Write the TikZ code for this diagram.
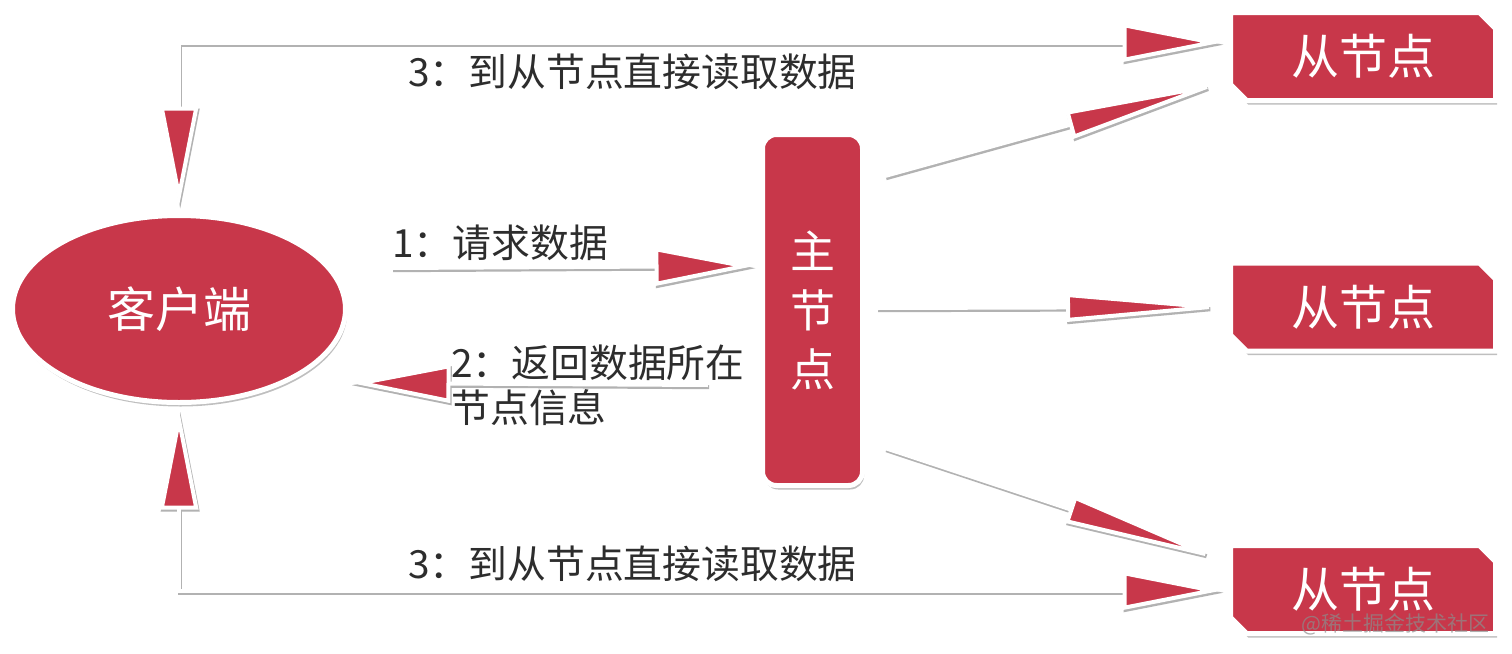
\documentclass[tikz,border=0pt]{standalone}
\usepackage{fontspec}
\setmainfont{Noto Sans CJK SC}
\usetikzlibrary{arrows.meta,shapes.misc,shapes.geometric,shadows,calc}
\definecolor{cred}{RGB}{200,55,74}
\definecolor{ctext}{RGB}{45,45,45}
\pgfdeclarelayer{bglayer}
\pgfdeclarelayer{shadowlayer}
\pgfdeclarelayer{linelayer}
\pgfsetlayers{bglayer,shadowlayer,linelayer,main}
\tikzset{
  sT/.tip={Triangle[length=50pt,width=19pt,line width=2pt,fill=cred]},
  sTs/.tip={Triangle[length=50pt,width=19pt,line width=2pt,fill=black!30]},
  lT/.tip={Triangle[length=83.5pt,width=14pt,line width=2pt,fill=cred]},
  lTs/.tip={Triangle[length=83.5pt,width=14pt,line width=2pt,fill=black!30]},
  shadowline/.style={draw=black!30,line width=2pt,transform canvas={shift={(0.6pt,-1.1pt)}}},
  whiteline/.style={draw=white,line width=2pt},
  nshadow/.style={drop shadow={shadow xshift=0.8pt,shadow yshift=-2pt,opacity=0.25,fill=black}},
  client/.style={ellipse,fill=cred,draw=white,line width=2.5pt,inner sep=0pt,
    minimum width=166.5pt,minimum height=93.5pt,text=white,nshadow,
    font=\fontsize{24}{28}\selectfont},
  master/.style={rectangle,rounded corners=7pt,fill=cred,draw=white,line width=2.5pt,
    inner sep=0pt,minimum width=50pt,minimum height=175.5pt,text=white,nshadow,
    align=center,font=\fontsize{22.5}{29.5}\selectfont},
  slave/.style={chamfered rectangle,chamfered rectangle corners={north east,south west},
    chamfered rectangle xsep=4pt,chamfered rectangle ysep=4pt,
    fill=cred,draw=white,line width=2.5pt,inner sep=0pt,
    minimum width=132.5pt,minimum height=44pt,text=white,nshadow,
    font=\fontsize{24}{28}\selectfont},
  lbl/.style={text=ctext,inner sep=0pt,anchor=west,align=left,
    font=\fontsize{19.4}{22.5}\selectfont},
}
\newcommand\link[3]{%
  \begin{pgfonlayer}{shadowlayer}\draw[shadowline,#2] #3;\end{pgfonlayer}
  \begin{pgfonlayer}{linelayer}\draw[whiteline,#1] #3;\end{pgfonlayer}}
\begin{document}
\begin{tikzpicture}[x=0.5pt,y=-0.5pt]
\begin{pgfonlayer}{bglayer}
\fill[white] (0,0) rectangle (1512,654);
\end{pgfonlayer}
\useasboundingbox (0,0) rectangle (1512,654);
% nodes
\node[client] (client) at (179,309) {客户端};
\node[master] (master) at (812.5,310) {主\\节\\点};
\node[slave] (s1) at (1363,56.5) {从节点};
\node[slave] (s2) at (1363,307) {从节点};
\node[slave] (s3) at (1363,589.5) {从节点};
% labels
\node[lbl] (t3a) at (408,72) {3：到从节点直接读取数据};
\node[lbl] (t3b) at (408,564) {3：到从节点直接读取数据};
\node[lbl] (t1) at (392,243) {1：请求数据};
\node[lbl] (t2) at (451,385) {2：返回数据所在\\节点信息};
\node[anchor=east,inner sep=0pt,text=black!45,opacity=0.7,
  font=\fontsize{10.5}{12}\selectfont] (wm) at (1490,624) {@稀土掘金技术社区};
% connector ends
\coordinate (ctop) at ($(client.north)+(0,-6.5)$);
\coordinate (s1e) at ($(s1.west)+(-5.5,-14)$);
\coordinate (cbot) at ($(client.south)+(0,4.5)$);
\coordinate (s3e) at ($(s3.west)+(-5.5,1)$);
\coordinate (r1) at (392,268);
\coordinate (r2) at ($(master.west)+(-5.5,-44)$);
\coordinate (q1) at (708,385);
\coordinate (q2) at ($(client.east)+(2.5,74)$);
\coordinate (m1) at ($(master.east)+(20,-134)$);
\coordinate (e1) at ($(s1.west)+(2,24)$);
\coordinate (m2) at ($(master.east)+(12,-2)$);
\coordinate (e2) at ($(s2.west)+(5,0)$);
\coordinate (m3) at ($(master.east)+(20,138)$);
\coordinate (e3) at ($(s3.west)+(0,-28)$);
% connectors
\link{sT-sT}{sTs-sTs}{(ctop) |- (s1e)}
\link{sT-sT}{sTs-sTs}{(cbot) |- (s3e)}
\link{-sT}{-sTs}{(r1) -- (r2)}
\link{-sT}{-sTs}{(q1) -- (q2)}
\link{-lT}{-lTs}{(m1) -- (e1)}
\link{-lT}{-lTs}{(m2) -- (e2)}
\link{-lT}{-lTs}{(m3) -- (e3)}
\end{tikzpicture}
\end{document}
